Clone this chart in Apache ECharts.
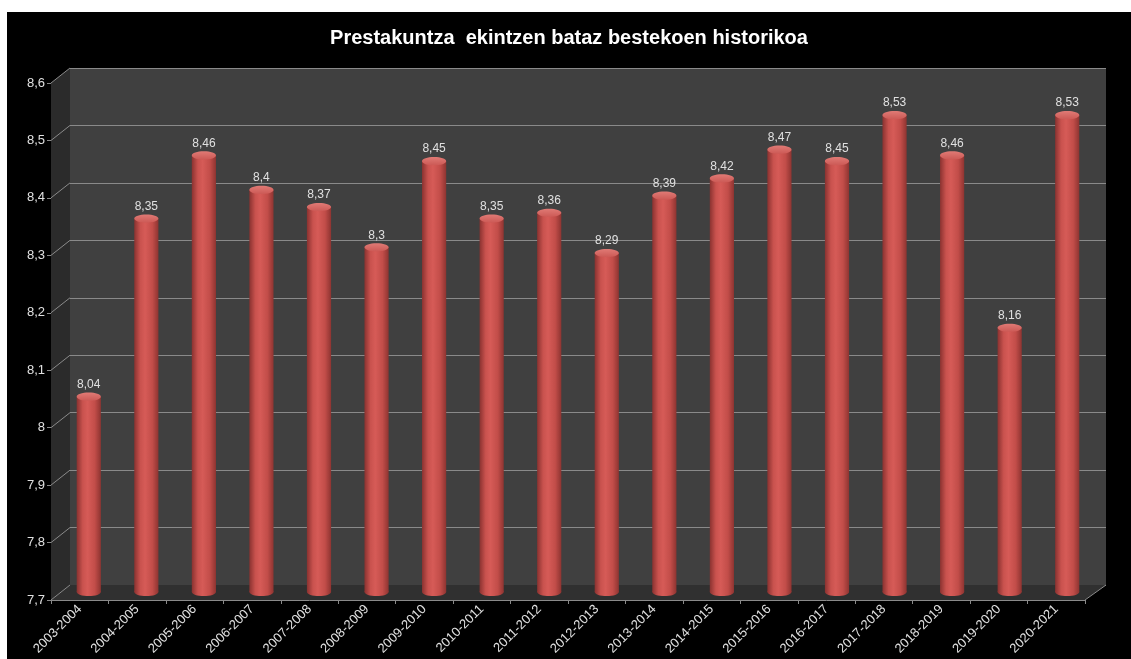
<!DOCTYPE html>
<html><head><meta charset="utf-8">
<script src="https://cdn.jsdelivr.net/npm/echarts@6/dist/echarts.min.js"></script>
<style>html,body{margin:0;padding:0;background:#fff;}#c{position:absolute;left:7px;top:12px;width:1124px;height:647px;}</style>
</head><body><div id="c"></div>
<script>
const categories = ['2003-2004','2004-2005','2005-2006','2006-2007','2007-2008','2008-2009','2009-2010','2010-2011','2011-2012','2012-2013','2013-2014','2014-2015','2015-2016','2016-2017','2017-2018','2018-2019','2019-2020','2020-2021'];
const values = [8.04,8.35,8.46,8.4,8.37,8.3,8.45,8.35,8.36,8.29,8.39,8.42,8.47,8.45,8.53,8.46,8.16,8.53];
const yTicks = [7.7,7.8,7.9,8.0,8.1,8.2,8.3,8.4,8.5,8.6];
const titleText = 'Prestakuntza  ekintzen bataz bestekoen historikoa';

const W = 1124, H = 647, OX = 7, OY = 12;
// layout (page coords -> container coords)
const back = {l:70-OX, r:1106-OX, t:68-OY, b:585-OY};
const front = {l:51-OX, r:1085-OX, t:83-OY, b:600-OY};
const bars = {l:60-OX, r:1096-OX, t:75-OY, b:592-OY};
const yMin = yTicks[0], yMax = yTicks[yTicks.length-1], yInt = 0.1;
const fmt = v => (Math.round(v*100)/100).toString().replace('.', ',');
const gridColor = '#8a8a8a';
const txt = '#e0e0e0';

const chart = echarts.init(document.getElementById('c'), null, {renderer:'canvas'});

function renderItem(params, api) {
  const i = api.value(0), v = api.value(1);
  const top = api.coord([i, v]);
  const base = api.coord([i, yMin]);
  const w = api.size([1, 0])[0] * 0.42;
  const ry = w * 0.17;
  const x0 = top[0] - w/2;
  const body = {type:'linear', x:0, y:0, x2:1, y2:0, colorStops:[
    {offset:0, color:'#8a3230'},{offset:0.25, color:'#c9524e'},{offset:0.45, color:'#d65b57'},
    {offset:0.75, color:'#c24d49'},{offset:1, color:'#8e3431'}]};
  return {type:'group', children:[
    {type:'ellipse', shape:{cx:top[0], cy:base[1], rx:w/2, ry:ry}, style:{fill:body}},
    {type:'rect', shape:{x:x0, y:top[1], width:w, height:base[1]-top[1]}, style:{fill:body}},
    {type:'ellipse', shape:{cx:top[0], cy:top[1], rx:w/2, ry:ry}, style:{fill:{type:'linear',x:0,y:0,x2:0,y2:1,colorStops:[{offset:0,color:'#e07a75'},{offset:1,color:'#cc5955'}]}}},
    {type:'text', x:top[0], y:top[1]-ry-2, style:{text:fmt(v), fill:txt, font:'12px "Liberation Sans", Arial, sans-serif', align:'center', verticalAlign:'bottom'}}
  ]};
}

const option = {
  backgroundColor:'#000',
  animation:false,
  title:{text:titleText, left:'center', top:11, textStyle:{color:'#fff', fontSize:20, fontWeight:'bold', fontFamily:'"Liberation Sans", Arial, sans-serif'}},
  grid:[
    {left:bars.l, right:W-bars.r, top:bars.t, bottom:H-bars.b, containLabel:false},
    {left:back.l, right:W-back.r, top:back.t, bottom:H-back.b, show:true, backgroundColor:'#404040', borderWidth:0, z:0},
    {left:front.l, right:W-front.r, top:front.t, bottom:H-front.b}
  ],
  xAxis:[
    {gridIndex:0, type:'category', data:categories, show:false},
    {gridIndex:1, type:'category', data:categories, show:false},
    {gridIndex:2, type:'category', data:categories, axisLine:{lineStyle:{color:gridColor}},
     axisTick:{show:true, length:4, lineStyle:{color:gridColor}},
     axisLabel:{rotate:45, color:txt, fontSize:13, margin:7, fontFamily:'"Liberation Sans", Arial, sans-serif', interval:0}}
  ],
  yAxis:[
    {gridIndex:0, type:'value', min:yMin, max:yMax, interval:yInt, show:false},
    {gridIndex:1, type:'value', min:yMin, max:yMax, interval:yInt, axisLabel:{show:false}, axisLine:{show:false}, axisTick:{show:false},
     splitLine:{show:true, lineStyle:{color:gridColor, width:1}}},
    {gridIndex:2, type:'value', min:yMin, max:yMax, interval:yInt, splitLine:{show:false},
     axisLine:{show:true, lineStyle:{color:gridColor}}, axisTick:{show:true, length:4, lineStyle:{color:gridColor}},
     axisLabel:{color:txt, fontSize:13, margin:6, formatter:fmt, fontFamily:'"Liberation Sans", Arial, sans-serif'}}
  ],
  series:[{type:'custom', xAxisIndex:0, yAxisIndex:0, renderItem:renderItem, data:values.map((v,i)=>[i,v]), z:10}]
};
chart.setOption(option);

// 3D walls decoration computed from axes
const g = [];
g.push({type:'polygon', z:1, shape:{points:[[front.l,front.t],[back.l,back.t],[back.l,back.b],[front.l,front.b]]}, style:{fill:'#2b2b2b'}});
g.push({type:'polygon', z:1, shape:{points:[[front.l,front.b],[back.l,back.b],[back.r,back.b],[front.r,front.b]]}, style:{fill:'#303030'}});
yTicks.forEach(t => {
  const fy = chart.convertToPixel({yAxisIndex:2}, t);
  const by = chart.convertToPixel({yAxisIndex:1}, t);
  g.push({type:'line', z:2, shape:{x1:front.l, y1:fy, x2:back.l, y2:by}, style:{stroke:gridColor, lineWidth:1}});
});
g.push({type:'line', z:2, shape:{x1:front.r, y1:front.b, x2:back.r, y2:back.b}, style:{stroke:gridColor, lineWidth:1}});
chart.setOption({graphic:g});
</script></body></html>
